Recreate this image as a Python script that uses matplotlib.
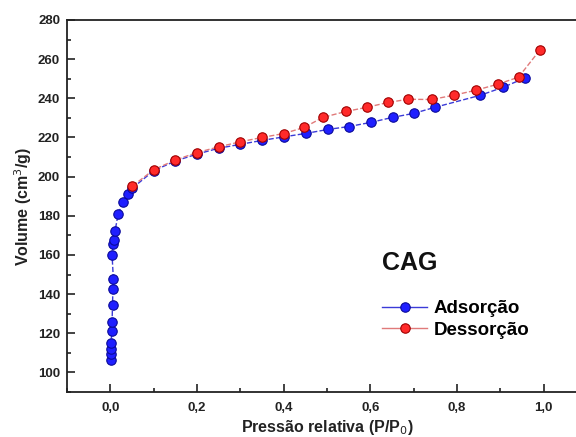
import matplotlib
matplotlib.use("Agg")
import matplotlib.pyplot as plt
from matplotlib.ticker import MultipleLocator, FuncFormatter

plt.rcParams['font.family'] = ['Liberation Sans', 'DejaVu Sans']

# adsorcao (blue)
p_ads = [0.0005, 0.001, 0.0015, 0.002, 0.003, 0.004, 0.005, 0.006, 0.007,
         0.004, 0.006, 0.009, 0.011, 0.018, 0.030, 0.040, 0.050,
         0.10, 0.15, 0.20, 0.25, 0.30, 0.35, 0.40, 0.452, 0.502, 0.551,
         0.601, 0.652, 0.700, 0.749, 0.853, 0.906, 0.956]
v_ads = [106.2, 109.2, 111.8, 114.9, 121.0, 125.6, 134.4, 142.6, 147.7,
         160.0, 165.6, 167.7, 172.3, 181.0, 187.2, 191.3, 194.0,
         203.0, 208.0, 211.5, 214.5, 216.5, 218.5, 220.3, 222.1, 224.1, 225.6,
         227.7, 230.3, 232.3, 235.4, 241.5, 245.6, 250.3]

# dessorcao (red)
p_des = [0.991, 0.942, 0.894, 0.843, 0.793, 0.742, 0.687, 0.641, 0.592,
         0.544, 0.491, 0.447, 0.40, 0.35, 0.30, 0.25, 0.20, 0.15, 0.10, 0.05]
v_des = [264.6, 250.8, 247.2, 244.1, 241.6, 239.4, 239.5, 237.9, 235.4,
         233.3, 230.3, 225.1, 222.0, 220.0, 217.8, 215.2, 212.3, 208.5, 203.5, 195.0]

fig = plt.figure(figsize=(5.76, 4.37), dpi=100)
ax = fig.add_axes([67 / 576, 45 / 437, 520 / 576, 372 / 437])

ax.plot(p_ads, v_ads, '--', color='#3b3bd8', lw=1, marker='o', ms=6.8,
        mfc='#1f1fff', mec='#0a0a9a', mew=0.8, label='Adsorção', zorder=3)
ax.plot(p_des, v_des, '--', color='#e07a7a', lw=1, marker='o', ms=6.8,
        mfc='#ff2a2a', mec='#a00000', mew=0.8, label='Dessorção', zorder=4)

ax.set_xlim(-0.1, 1.1)
ax.set_ylim(90, 280)
ax.xaxis.set_major_locator(MultipleLocator(0.2))
ax.xaxis.set_minor_locator(MultipleLocator(0.1))
ax.yaxis.set_major_locator(MultipleLocator(20))
ax.yaxis.set_minor_locator(MultipleLocator(10))
ax.xaxis.set_major_formatter(FuncFormatter(lambda v, p: f"{v:.1f}".replace('.', ',')))
ax.set_yticks(range(100, 281, 20))

ax.tick_params(which='both', direction='in', colors='#222222', width=1.2,
               labelsize=9.5)
ax.tick_params(which='major', length=6)
ax.tick_params(which='minor', length=3)
ax.tick_params(axis='x', pad=7)
ax.tick_params(axis='y', pad=5)
for lab in ax.get_xticklabels() + ax.get_yticklabels():
    lab.set_fontweight('bold')
for s in ax.spines.values():
    s.set_linewidth(1.3)
    s.set_color('#222222')

ax.set_xlabel('Pressão relativa (P/P$_0$)', fontsize=11.5, fontweight='bold',
              color='#222222', labelpad=3)
ax.set_ylabel('Volume (cm$^3$/g)', fontsize=11.5, fontweight='bold',
              color='#222222', labelpad=3)

ax.text(0.628, 156, 'CAG', fontsize=18, fontweight='bold', color='#111111',
        va='center')
leg = ax.legend(loc='upper left', bbox_to_anchor=(0.574, 0.292), frameon=False,
                prop={'weight': 'bold', 'size': 13.5}, handlelength=2.4,
                handletextpad=0.32, labelspacing=0.23)
for h in leg.get_lines():
    h.set_linestyle('-')

fig.savefig('out.png', dpi=100)
